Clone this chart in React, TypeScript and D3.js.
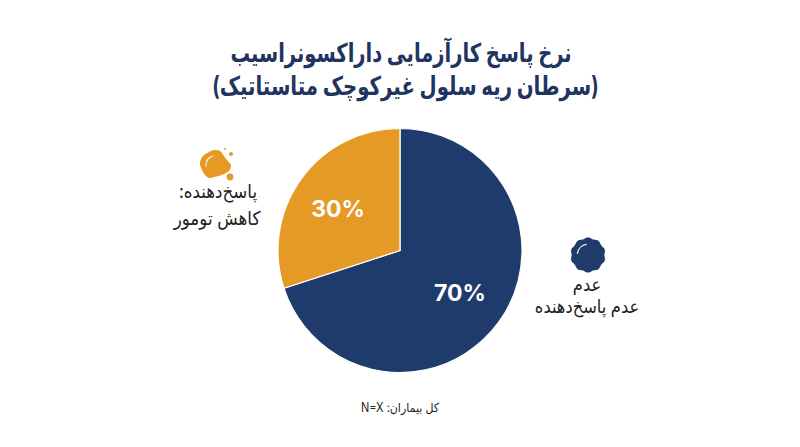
import React from "react";
import * as d3 from "d3";

const categories = ["عدم پاسخ‌دهنده", "پاسخ‌دهنده"];
const values = [70, 30];
const valueLabels = ["70%", "30%"];
const colors = ["#1f3b6b", "#e59a26"];
const titleLines = ["نرخ پاسخ کارآزمایی داراکسونراسیب", "(سرطان ریه سلول غیرکوچک متاستاتیک)"];
const orangeLabel = ["پاسخ‌دهنده:", "کاهش تومور"];
const navyLabel = ["عدم", "عدم پاسخ‌دهنده"];
const footer = "کل بیماران: N=X";

const FONT = "Inter, 'DejaVu Sans', sans-serif";

function T({ x, y, sx, children }: { x: number; y: number; sx: number; children: React.ReactNode }) {
  return <text transform={`translate(${x},${y}) scale(${sx},1)`}>{children}</text>;
}

function Scallop({ cx, cy, r, fill }: { cx: number; cy: number; r: number; fill: string }) {
  const pts = d3.range(0, 360, 2).map((a) => {
    const t = (a * Math.PI) / 180;
    const rr = r * (1 + 0.035 * Math.cos(10 * t));
    return [rr * Math.sin(t), -rr * Math.cos(t)] as [number, number];
  });
  const d = d3.line().curve(d3.curveCardinalClosed)(pts) || "";
  return (
    <g transform={`translate(${cx},${cy})`}>
      <path d={d} fill={fill} />
      <path d={`M${-r * 0.62},${-r * 0.1} A${r * 0.62},${r * 0.62} 0 0 1 ${-r * 0.1},${-r * 0.62}`} fill="none" stroke="#fff" strokeWidth={1.3} strokeLinecap="round" opacity={0.9} />
    </g>
  );
}

function Blob({ cx, cy, fill }: { cx: number; cy: number; fill: string }) {
  const pts: [number, number][] = [
    [-11, -9], [-6, -12], [-1, -14], [5, -13], [9, -8], [12, -4], [16, 1], [14, 7], [9, 10], [4, 12], [-1, 13], [-6, 14], [-10, 11], [-13, 6], [-15, 0], [-14, -5],
  ];
  const d = d3.line().curve(d3.curveCatmullRomClosed)(pts) || "";
  return (
    <g transform={`translate(${cx},${cy})`}>
      <path d={d} fill={fill} />
      <path d="M-9,2 A9,9 0 0 1 -2,-8" fill="none" stroke="#fff" strokeWidth={1.2} strokeLinecap="round" opacity={0.9} />
      <circle cx={15} cy={13} r={3.4} fill={fill} />
      <circle cx={16} cy={-10} r={2} fill={fill} />
      <circle cx={10} cy={-15} r={1} fill={fill} />
    </g>
  );
}

export default function App() {
  const w = 800, h = 447, cx = 400, cy = 250.5, R = 122;
  const pie = d3.pie<number>().sort(null).startAngle(0).endAngle(2 * Math.PI);
  const arc = d3.arc<d3.PieArcDatum<number>>().innerRadius(0).outerRadius(R);
  const arcs = pie(values);
  return (
    <svg width={w} height={h} viewBox={`0 0 ${w} ${h}`} style={{ position: "absolute", left: 0, top: 0, background: "#fff" }}>
      <g fontFamily={FONT} fontWeight={700} fill="#1f3560" fontSize={26} textAnchor="middle" direction="rtl">
        <T x={401} y={62} sx={0.75}>{titleLines[0]}</T>
        <T x={405.5} y={95} sx={0.76}>{titleLines[1]}</T>
      </g>
      {arcs.map((a, i) => (
        <path key={categories[i]} d={arc(a) || ""} transform={`translate(${cx},${cy})`} fill={colors[i]} stroke="#fff" strokeWidth={1.2} />
      ))}
      <text x={460} y={300.5} textAnchor="middle" fill="#fff" fontFamily={FONT} fontWeight={700} fontSize={23}>{valueLabels[0]}</text>
      <text x={338} y={216.5} textAnchor="middle" fill="#fff" fontFamily={FONT} fontWeight={700} fontSize={23}>{valueLabels[1]}</text>
      <Blob cx={215} cy={164} fill={colors[1]} />
      <g fontFamily={FONT} fontSize={19} fill="#222" textAnchor="middle" direction="rtl">
        <T x={218} y={198} sx={0.88}>{orangeLabel[0]}</T>
        <T x={217} y={225} sx={0.88}>{orangeLabel[1]}</T>
      </g>
      <Scallop cx={588} cy={255} r={17} fill={colors[0]} />
      <g fontFamily={FONT} fontSize={18.5} fill="#222" textAnchor="middle" direction="rtl">
        <T x={587} y={291} sx={0.88}>{navyLabel[0]}</T>
        <T x={587} y={313} sx={0.88}>{navyLabel[1]}</T>
      </g>
      <g fontFamily={FONT} fontSize={12.5} fill="#222" textAnchor="middle" direction="rtl">
        <T x={400} y={412} sx={0.88}>{footer}</T>
      </g>
    </svg>
  );
}
